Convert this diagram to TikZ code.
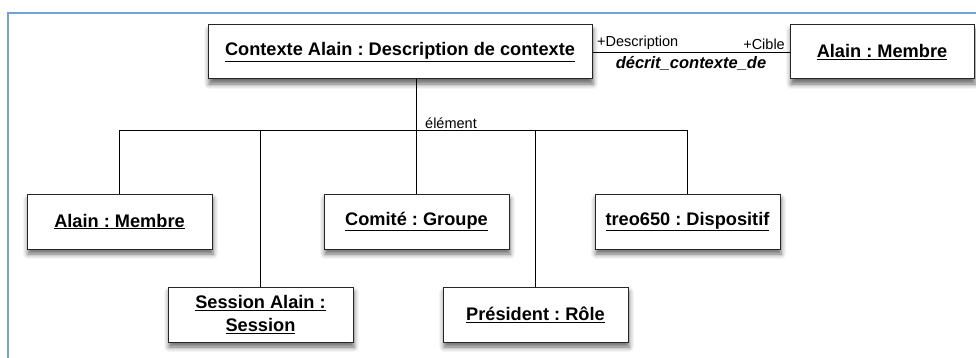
\documentclass[tikz,border=0pt]{standalone}
\usepackage{fontspec}
\setmainfont{Liberation Sans}
\usepackage{tikz}
\usetikzlibrary{shadows,shadows.blur}
\definecolor{framblue}{RGB}{115,160,215}
\frenchspacing

\tikzset{
	obj/.style={draw=black!85,line width=1pt,fill=white,minimum width=185pt,minimum height=55pt,inner sep=0pt,align=center,
		font=\fontsize{18.2}{21}\selectfont\bfseries,
		blur shadow={shadow xshift=1pt,shadow yshift=-5pt,shadow blur radius=5pt,shadow opacity=60}},
	lab/.style={font=\fontsize{14.5}{16}\selectfont,inner sep=1.5pt},
}

\begin{document}
\begin{tikzpicture}[x=1pt,y=-1pt]
	\useasboundingbox (0,0) rectangle (976,358);
	\draw[framblue,line width=1.2pt] (8,360) -- (8,13) -- (980,13);
	\node[obj,minimum width=384pt,minimum height=54pt] (ctx) at (400,52) {\underline{Contexte Alain : Description de contexte}};
	\node[obj,minimum width=184pt,minimum height=54pt] (cible) at (882,52) {\underline{Alain : Membre}};
	\node[obj] (alain) at (119.5,221.5) {\underline{Alain : Membre}};
	\node[obj] (comite) at (416.5,221.5) {\underline{Comité : Groupe}};
	\node[obj] (treo) at (687.5,221.5) {\underline{treo650 : Dispositif}};
	\node[obj] (session) at (260.5,314.5) {\underline{Session Alain :}\\[2pt]\underline{Session}};
	\node[obj] (president) at (535.5,314.5) {\underline{Président : Rôle}};
	\coordinate (bus) at (416.5,130);
	% association
	\draw[line width=0.8pt] (ctx.east) -- node[lab,below=3pt,font=\fontsize{16.5}{18}\selectfont\bfseries\itshape] (assoc) {décrit\_contexte\_de} (cible.west);
	\node[lab,anchor=south west] (desc) at ([xshift=3pt,yshift=1pt]ctx.east) {+Description};
	\node[lab,anchor=south east] (cib) at ([xshift=-3pt,yshift=1pt]cible.west) {+Cible};
	% composition
	\draw[line width=0.8pt] (ctx.south -| comite) -- (comite.north);
	\draw[line width=0.8pt] (alain.north) -- (alain.north |- bus) -- (treo.north |- bus) -- (treo.north);
	\foreach \n in {session,president}{
		\draw[line width=0.8pt] (\n.north) -- (\n.north |- bus);
	}
	\node[lab,anchor=south west] (elem) at ([xshift=7pt]bus) {élément};
\end{tikzpicture}
\end{document}
